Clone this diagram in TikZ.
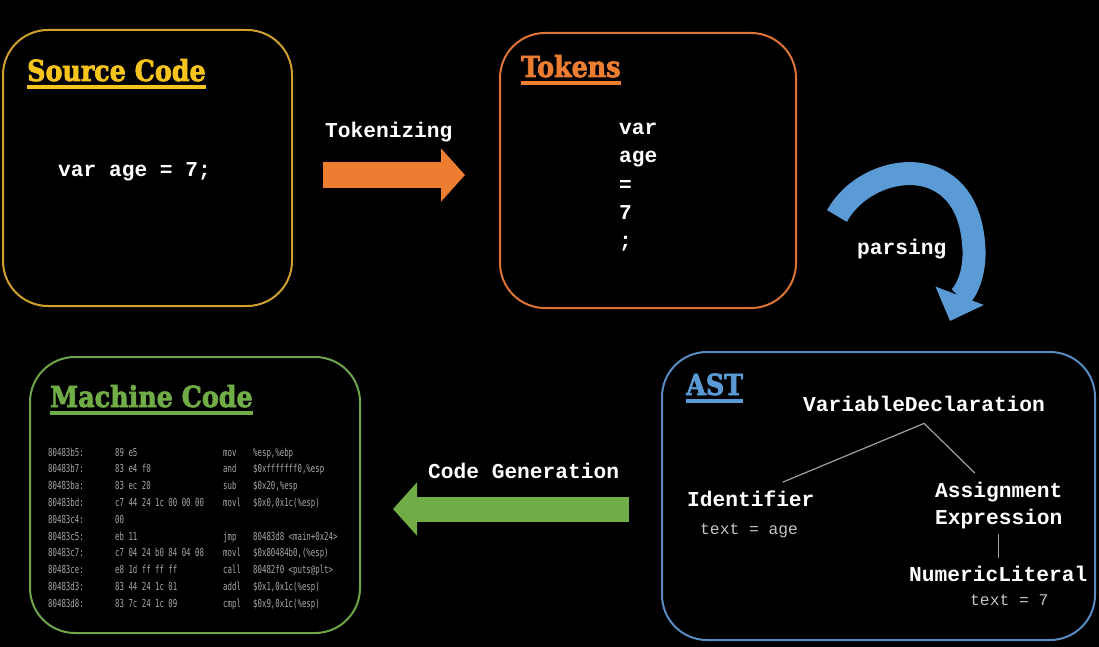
\documentclass[tikz,border=0pt]{standalone}
\usepackage{fontspec}
\setmainfont{Liberation Serif}
\newfontfamily\codefont{Liberation Mono}
\newfontfamily\headfont[FakeStretch=0.875, FakeBold=2.4]{DejaVu Serif Bold}
\newfontfamily\asmfont[FakeStretch=0.67]{DejaVu Sans Mono}
\usepackage{xcolor}
\definecolor{srcGold}{HTML}{CFA02C}
\definecolor{srcYellow}{HTML}{F7C31D}
\definecolor{tokOrange}{HTML}{DC7536}
\definecolor{flowOrange}{HTML}{ED7D31}
\definecolor{astBlue}{HTML}{5A8CC2}
\definecolor{flowBlue}{HTML}{5B9BD5}
\definecolor{mcGreen}{HTML}{6EA54B}
\definecolor{flowGreen}{HTML}{70AD47}
\definecolor{attrGray}{HTML}{C4C4C4}
\definecolor{asmGray}{HTML}{A8A8A8}
\definecolor{treeGray}{HTML}{A0A0A0}
\usetikzlibrary{
    arrows.meta,
    positioning,
    calc
}
\tikzset{
    % Rounded stage boxes
    stage/.style={
        rectangle,
        rounded corners=45pt,
        line width=2pt,
        fill=black,
        inner sep=0pt,
    },
    % Underlined slab headings
    heading/.style={
        font=\headfont\fontsize{29}{32}\selectfont,
        inner sep=0pt,
        anchor=base west,
    },
    underline/.style={
        draw=#1,
        line width=4pt,
    },
    % Bold typewriter text
    code/.style={
        font=\codefont\bfseries\fontsize{21.2}{27}\selectfont,
        text=white,
        inner sep=0pt,
        anchor=base west,
    },
    % Attribute lines under AST nodes
    attr/.style={
        font=\codefont\fontsize{16.3}{20}\selectfont,
        text=attrGray,
        inner sep=0pt,
        anchor=base west,
    },
    % Disassembly listing
    asm/.style={
        font=\asmfont\fontsize{11}{13}\selectfont,
        text=asmGray,
        inner sep=0pt,
        anchor=base west,
    },
    % Fat block arrows between stages
    flow/.style={
        draw=#1,
        line width=25pt,
        -{Triangle[length=24pt, width=52pt]},
    },
    treeline/.style={
        draw=treeGray,
        line width=1.2pt,
    },
}

\begin{document}
\begin{tikzpicture}[x=1pt, y=-1pt]
    % page
    \fill[black] (0,0) rectangle (1099,647);
    \useasboundingbox (0,0) rectangle (1099,647);

    % stage boxes
    \node (src) [stage, draw=srcGold, minimum width=289pt, minimum height=276pt] at (147.5,168) {};
    \node (tok) [stage, draw=tokOrange, minimum width=296pt, minimum height=275pt] at (648,170.5) {};
    \node (ast) [stage, draw=astBlue, minimum width=433pt, minimum height=288pt] at (878.5,496) {};
    \node (mc) [stage, draw=mcGreen, minimum width=330pt, minimum height=276pt] at (195,495) {};

    % headings
    \node (srchead) [heading, text=srcYellow] at (27,81) {Source Code};
    \node (tokhead) [heading, text=flowOrange] at (521,77) {Tokens};
    \node (asthead) [heading, text=flowBlue] at (686,395) {AST};
    \node (mchead) [heading, text=flowGreen] at (50,407) {Machine Code};
    \draw [underline=srcYellow] ([yshift=-6pt]srchead.base west) -- ([yshift=-6pt]srchead.base east);
    \draw [underline=flowOrange] ([yshift=-6pt]tokhead.base west) -- ([yshift=-6pt]tokhead.base east);
    \draw [underline=flowBlue] ([yshift=-6pt]asthead.base west) -- ([yshift=-6pt]asthead.base east);
    \draw [underline=flowGreen] ([yshift=-6pt]mchead.base west) -- ([yshift=-6pt]mchead.base east);

    % source and tokens
    \node (srcline) [code] at (58,177) {var age = 7;};
    \foreach \tok [count=\i] in {var,age,=,7,;}
        \node (tok\i) [code] at (619, 107+28*\i) {\tok};

    % AST
    \node (vardecl) [code] at (803,411) {VariableDeclaration};
    \node (ident) [code] at (687,506) {Identifier};
    \node (identattr) [attr] at (700,534) {text = age};
    \node (assign) [code, align=left, anchor=north west] at (935,482) {Assignment\\Expression};
    \node (numlit) [code] at (909,581) {NumericLiteral};
    \node (numattr) [attr] at (970,605) {text = 7};
    \draw [treeline] ([yshift=-12pt]vardecl.south) -- ([xshift=32pt,yshift=8pt]ident.north);
    \draw [treeline] ([yshift=-12pt]vardecl.south) -- ([xshift=-24pt,yshift=9pt]assign.north);
    \draw [treeline] ([yshift=-5pt]assign.south) -- ([yshift=7pt]assign.south |- numlit.north);

    % machine code listing
    \foreach \addr/\hex/\op/\arg [count=\i] in {
        80483b5:/89 e5/mov/{\%esp,\%ebp},
        80483b7:/83 e4 f0/and/{\$0xfffffff0,\%esp},
        80483ba:/83 ec 20/sub/{\$0x20,\%esp},
        80483bd:/c7 44 24 1c 00 00 00/movl/{\$0x0,0x1c(\%esp)},
        80483c4:/00/{}/{},
        80483c5:/eb 11/jmp/{80483d8 <main+0x24>},
        80483c7:/c7 04 24 b0 84 04 08/movl/{\$0x80484b0,(\%esp)},
        80483ce:/e8 1d ff ff ff/call/{80482f0 <puts@plt>},
        80483d3:/83 44 24 1c 01/addl/{\$0x1,0x1c(\%esp)},
        80483d8:/83 7c 24 1c 09/cmpl/{\$0x9,0x1c(\%esp)}} {
        \node (addr\i) [asm] at (48, 439.2+16.8*\i) {\addr};
        \node (hex\i) [asm] at (115, 439.2+16.8*\i) {\hex};
        \node (op\i) [asm] at (223, 439.2+16.8*\i) {\op};
        \node (arg\i) [asm] at (253, 439.2+16.8*\i) {\arg};
    }

    % stage arrows
    \node (tokenizing) [code] at (325,138) {Tokenizing};
    \draw [flow=flowOrange] ($(src.east)+(30,7)$) -- ($(tok.west)+(-34,4.5)$);

    \node (parsing) [code] at (857,254) {parsing};
    \coordinate (parse start) at (837,216);
    \coordinate (parse tip) at (950,321);
    \draw [draw=flowBlue, line width=23pt, -{Triangle[length=27pt, width=50pt]}]
        (parse start) .. controls (866,162) and (970,146) .. (974,250)
        .. controls (975,285) and (958,300) .. (parse tip);

    \node (codegen) [code] at (428,478) {Code Generation};
    \draw [flow=flowGreen] ($(ast.west)+(-32,13)$) -- ($(mc.east)+(32,14)$);
\end{tikzpicture}
\end{document}
